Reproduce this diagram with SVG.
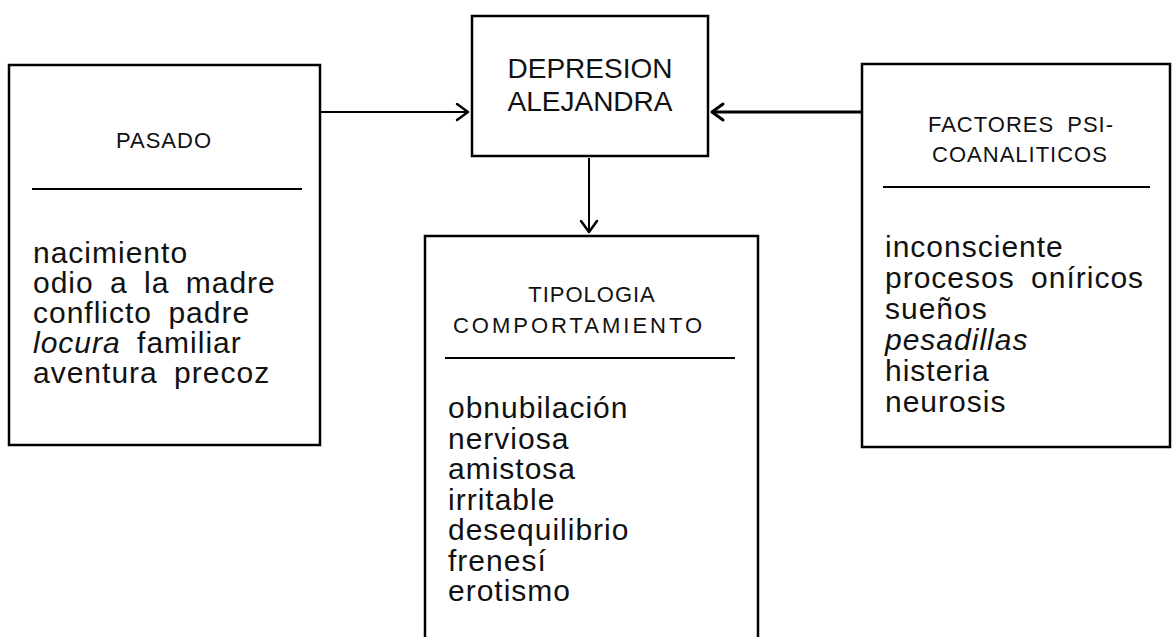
<svg xmlns="http://www.w3.org/2000/svg" width="1172" height="637" viewBox="0 0 1172 637">
<style>
.box{fill:none;stroke:#000;stroke-width:2.5}
.sep{stroke:#000;stroke-width:2}
.conn{stroke:#000;stroke-width:2;fill:none}
.head{stroke:#000;stroke-width:2.5;fill:none;stroke-linecap:round;stroke-linejoin:round}
.title{font-family:"Liberation Sans",Arial,sans-serif;font-size:22px;letter-spacing:1px;text-anchor:middle;fill:#111}
.main{font-family:"Liberation Sans",Arial,sans-serif;font-size:28px;text-anchor:middle;fill:#111}
.item{font-family:"Liberation Sans",Arial,sans-serif;font-size:30px;letter-spacing:1px;word-spacing:7px;fill:#111}
.it{font-style:italic}
</style>
<rect width="1172" height="637" fill="#fff"/>
<g id="connectors">
  <line class="conn" x1="321" y1="112" x2="467" y2="112"/>
  <polyline class="head" points="457,104 468,112 457,120"/>
  <line class="conn" style="stroke-width:3" x1="862" y1="112" x2="713" y2="112"/>
  <polyline class="head" style="stroke-width:3" points="723,104 712,112 723,120"/>
  <line class="conn" x1="589" y1="158" x2="589" y2="231"/>
  <polyline class="head" points="581,221 589,232 597,221"/>
</g>
<g id="pasado">
  <rect class="box" x="9" y="65" width="311" height="380"/>
  <text class="title" x="164" y="148">PASADO</text>
  <line class="sep" x1="32" y1="189" x2="302" y2="189"/>
  <text class="item" x="33" y="263">nacimiento</text>
  <text class="item" x="33" y="293">odio a la madre</text>
  <text class="item" x="33" y="323">conflicto padre</text>
  <text class="item" x="33" y="353"><tspan class="it">locura</tspan> familiar</text>
  <text class="item" x="33" y="383">aventura precoz</text>
</g>
<g id="depresion">
  <rect class="box" x="472" y="16" width="236" height="140"/>
  <text class="main" x="590" y="78">DEPRESION</text>
  <text class="main" x="590" y="110.5">ALEJANDRA</text>
</g>
<g id="tipologia">
  <path class="box" d="M425,637 V236 H758 V637"/>
  <text class="title" x="592" y="302">TIPOLOGIA</text>
  <text class="title" x="579" y="333" style="letter-spacing:3px">COMPORTAMIENTO</text>
  <line class="sep" x1="445" y1="358" x2="735" y2="358"/>
  <text class="item" x="448" y="418">obnubilación</text>
  <text class="item" x="448" y="448.5">nerviosa</text>
  <text class="item" x="448" y="479">amistosa</text>
  <text class="item" x="448" y="509.5">irritable</text>
  <text class="item" x="448" y="540">desequilibrio</text>
  <text class="item" x="448" y="570.5">frenesí</text>
  <text class="item" x="448" y="601">erotismo</text>
</g>
<g id="factores">
  <rect class="box" x="862" y="64" width="308" height="383"/>
  <text class="title" x="1021" y="132" style="word-spacing:6px">FACTORES PSI-</text>
  <text class="title" x="1020" y="162">COANALITICOS</text>
  <line class="sep" x1="883" y1="187" x2="1150" y2="187"/>
  <text class="item" x="885" y="257">inconsciente</text>
  <text class="item" x="885" y="288">procesos oníricos</text>
  <text class="item" x="885" y="319">sueños</text>
  <text class="item it" x="885" y="350">pesadillas</text>
  <text class="item" x="885" y="381">histeria</text>
  <text class="item" x="885" y="412">neurosis</text>
</g>
</svg>
